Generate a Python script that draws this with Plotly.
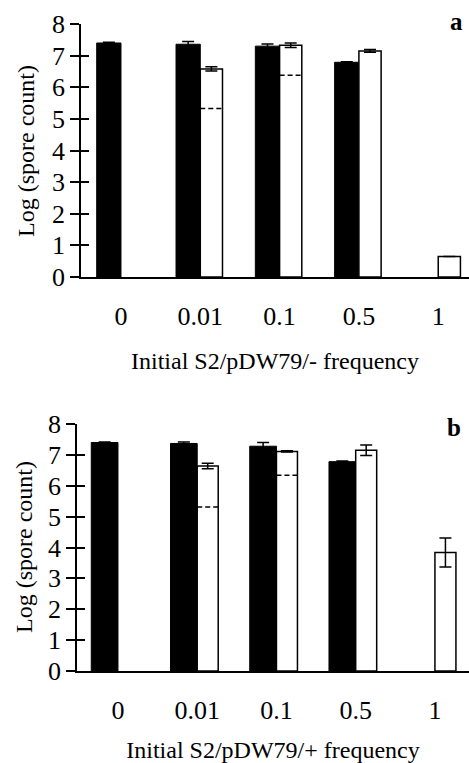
import plotly.graph_objects as go

categories = ["0", "0.01", "0.1", "0.5", "1"]
yticks = [0, 1, 2, 3, 4, 5, 6, 7, 8]

# Panel a (S2/pDW79/-)
a_black = [7.40, 7.36, 7.30, 6.79, None]
a_black_err = [0.02, 0.09, 0.07, 0.02, 0]
a_white = [None, 6.58, 7.33, 7.15, 0.65]
a_white_err = [0, 0.07, 0.07, 0.04, 0]
a_dashed = [None, 5.33, 6.38, None, None]

# Panel b (S2/pDW79/+)
b_black = [7.40, 7.37, 7.28, 6.78, None]
b_black_err = [0.02, 0.05, 0.12, 0.02, 0]
b_white = [None, 6.64, 7.11, 7.15, 3.84]
b_white_err = [0, 0.09, 0.02, 0.17, 0.47]
b_dashed = [None, 5.31, 6.34, None, None]

xa_title = "Initial S2/pDW79/- frequency"
xb_title = "Initial S2/pDW79/+ frequency"
ytitle = "Log (spore count)"

FONT = "Liberation Serif"
W, H = 469, 763
pos = list(range(len(categories)))

fig = go.Figure()

def add_panel(xr, yr, black, berr, white, werr, dashed, bw, ww):
    fig.add_trace(go.Bar(
        x=pos, y=black, width=bw, offset=-bw, xaxis=xr, yaxis=yr,
        marker=dict(color="black", line=dict(color="black", width=1)),
        error_y=dict(type="data", array=berr, visible=True, color="black", thickness=1.5, width=6),
        showlegend=False))
    fig.add_trace(go.Bar(
        x=pos, y=white, width=ww, offset=0, xaxis=xr, yaxis=yr,
        marker=dict(color="white", line=dict(color="black", width=1.5)),
        error_y=dict(type="data", array=werr, visible=True, color="black", thickness=1.5, width=6),
        showlegend=False))
    for i, d in enumerate(dashed):
        if d is None:
            continue
        fig.add_trace(go.Scatter(
            x=[pos[i], pos[i] + ww], y=[d, d], mode="lines", xaxis=xr, yaxis=yr,
            line=dict(color="black", width=1.5, dash="5px,3px"), showlegend=False))

add_panel("x", "y", a_black, a_black_err, a_white, a_white_err, a_dashed, 0.306, 0.28)
add_panel("x2", "y2", b_black, b_black_err, b_white, b_white_err, b_dashed, 0.337, 0.265)

dom_a_y = [1 - 277 / H, 1 - 24 / H]
dom_b_y = [1 - 671 / H, 1 - 424 / H]

xcommon = dict(tickmode="array", tickvals=pos, ticktext=categories, ticks="",
               showline=True, linecolor="black", linewidth=1.5, showgrid=False,
               zeroline=False, tickfont=dict(family=FONT, size=26, color="black"),
               ticklabelstandoff=15, automargin=False)
ycommon = dict(range=[0, 8], tickmode="array", tickvals=yticks, ticks="outside",
               ticklen=9, tickwidth=1.5, tickcolor="black", showline=True,
               linecolor="black", linewidth=1.5, showgrid=False, zeroline=False,
               tickfont=dict(family=FONT, size=26, color="black"), ticklabelstandoff=0,
               automargin=False)
yinside = dict(range=[0, 8], tickmode="array", tickvals=yticks, ticks="inside",
               ticklen=8, tickwidth=1.5, tickcolor="black", showticklabels=False,
               showgrid=False, zeroline=False, showline=False, automargin=False)

ann = dict(xref="paper", yref="paper", showarrow=False, xanchor="center", yanchor="middle")
fig.update_layout(
    template="none",
    width=W, height=H, margin=dict(l=0, r=0, t=0, b=0, pad=0),
    plot_bgcolor="white", paper_bgcolor="white", barmode="overlay",
    font=dict(family=FONT, color="black"),
    xaxis=dict(domain=[81 / W, 1], range=[-0.504, 4.388], anchor="y",
               title=dict(text=xa_title, font=dict(family=FONT, size=24), standoff=22), **xcommon),
    yaxis=dict(domain=dom_a_y, anchor="x", **ycommon),
    yaxis3=dict(overlaying="y", anchor="x", **yinside),
    xaxis2=dict(domain=[77 / W, 1], range=[-0.517, 4.43], anchor="y2",
                title=dict(text=xb_title, font=dict(family=FONT, size=24), standoff=24), **xcommon),
    yaxis2=dict(domain=dom_b_y, anchor="x2", **ycommon),
    yaxis4=dict(overlaying="y2", anchor="x2", **yinside),
    annotations=[
        dict(text=ytitle, x=26 / W, y=1 - 151 / H, textangle=-90,
             font=dict(family=FONT, size=24, color="black"), **ann),
        dict(text=ytitle, x=24 / W, y=1 - 547 / H, textangle=-90,
             font=dict(family=FONT, size=24, color="black"), **ann),
        dict(text="<b>a</b>", x=456 / W, y=1 - 22 / H,
             font=dict(family=FONT, size=25, color="black"), **ann),
        dict(text="<b>b</b>", x=454 / W, y=1 - 427 / H,
             font=dict(family=FONT, size=25, color="black"), **ann),
    ],
)

fig.add_trace(go.Scatter(x=[None], y=[None], xaxis="x", yaxis="y3", showlegend=False))
fig.add_trace(go.Scatter(x=[None], y=[None], xaxis="x2", yaxis="y4", showlegend=False))

fig.write_html("out.html", config={"displayModeBar": False},
               post_script="document.body.style.margin='0';")
